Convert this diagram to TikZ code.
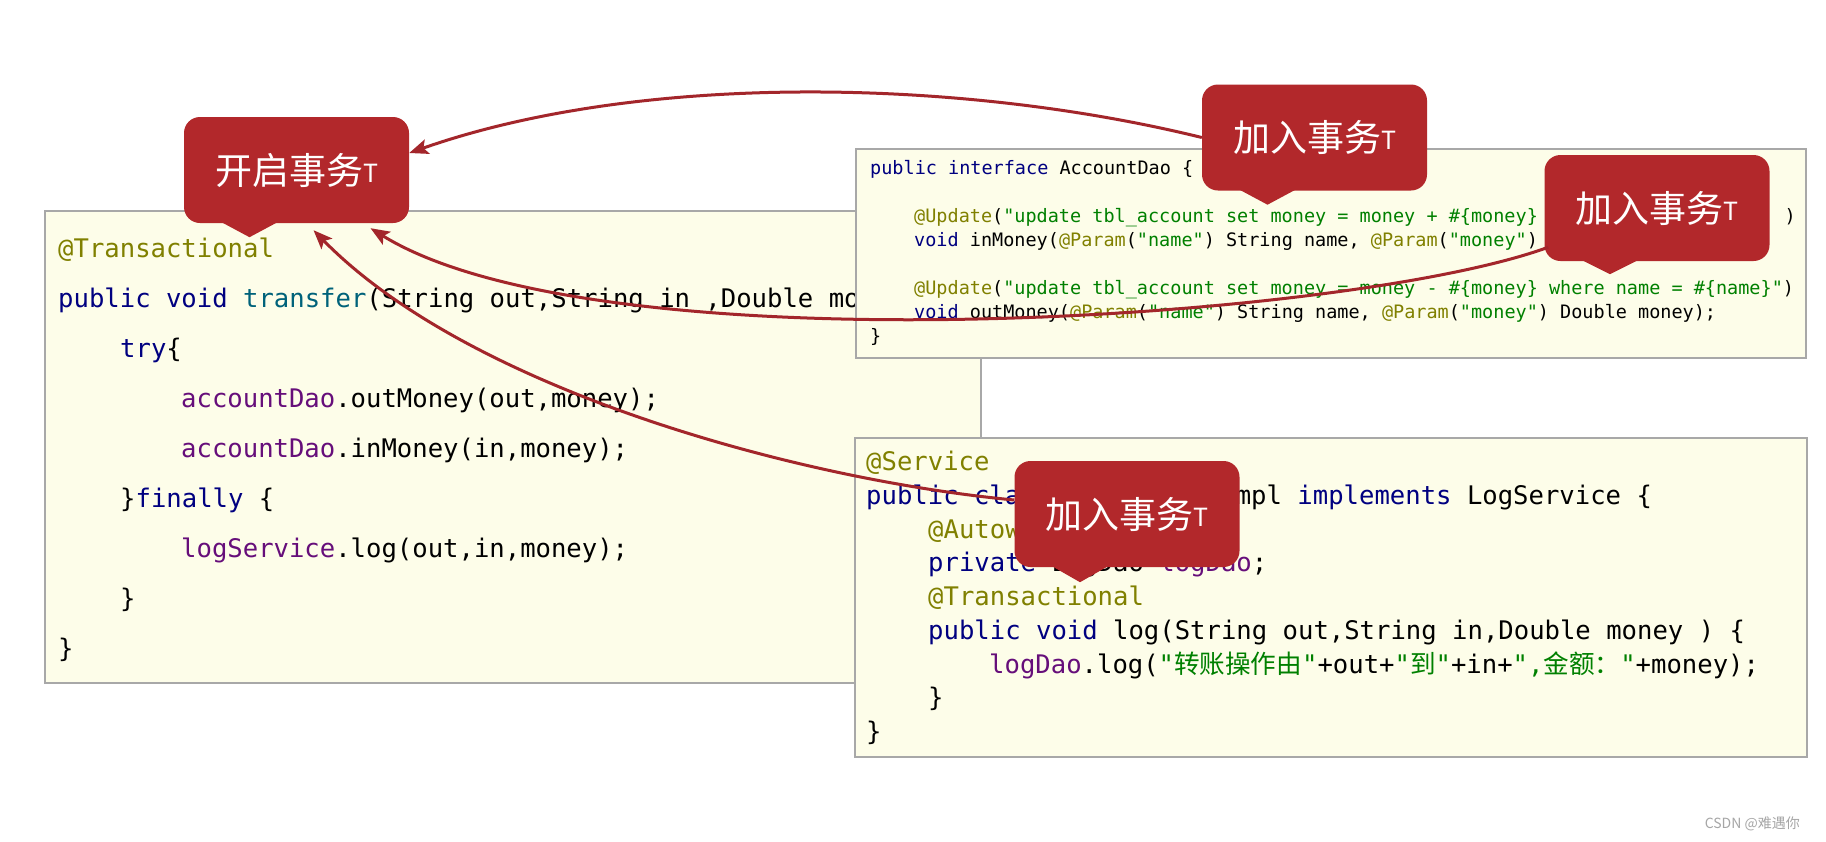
\documentclass[tikz,border=0pt]{standalone}
\usepackage{fontspec}
\setmonofont{DejaVu Sans Mono}
\newfontfamily\cjk{Noto Sans CJK SC}
\usetikzlibrary{arrows.meta,calc}
\definecolor{cred}{HTML}{B2282B}
\definecolor{ared}{HTML}{A3262B}
\definecolor{annoc}{HTML}{808000}
\definecolor{kwc}{HTML}{000080}
\definecolor{methc}{HTML}{00627A}
\definecolor{fldc}{HTML}{660E7A}
\definecolor{strc}{HTML}{008000}
\definecolor{boxfill}{HTML}{FDFDE9}
\definecolor{boxline}{HTML}{A8A8A8}
\newcommand{\cAn}[1]{\textcolor{annoc}{#1}}
\newcommand{\cKw}[1]{\textcolor{kwc}{#1}}
\newcommand{\cMe}[1]{\textcolor{methc}{#1}}
\newcommand{\cFl}[1]{\textcolor{fldc}{#1}}
\newcommand{\cSt}[1]{\textcolor{strc}{#1}}
\newcommand{\zh}[1]{{\cjk #1}}
\newcommand{\callt}[1]{#1{\fontsize{25}{25}\selectfont\raisebox{2pt}{T}}}
\begin{document}
\begin{tikzpicture}[x=1pt,y=-1pt,
  codebox/.style={draw=boxline, line width=1.5pt, fill=boxfill, inner sep=0pt, anchor=north west},
  big/.style={anchor=base west, inner sep=0pt, font=\ttfamily\fontsize{25.6}{30}\selectfont},
  small/.style={anchor=base west, inner sep=0pt, font=\ttfamily\fontsize{18.5}{22}\selectfont},
  callbox/.style={fill=cred, rounded corners=16pt, minimum width=225pt, minimum height=106pt, inner sep=0pt, text=white, font=\cjk\fontsize{37}{37}\selectfont},
  ptr/.style={fill=cred},
  arr/.style={draw=ared, line width=3pt, -{Stealth[length=19pt,width=15pt,inset=4pt]}},
]
\fill[white] (0,0) rectangle (1826,841);
\useasboundingbox (0,0) rectangle (1826,841);

% left code box
\node[codebox, minimum width=936pt, minimum height=472pt] (lbox) at (44,210) {};
\node[big] (l0) at (58,257) {\cAn{@Transactional}};
\node[big] (l1) at (58,307) {\cKw{public void} \cMe{transfer}(String out,String in ,Double mo};
\node[big] (l2) at (120,357) {\cKw{try}\{};
\node[big] (l3) at (181,407) {\cFl{accountDao}.outMoney(out,money);};
\node[big] (l4) at (181,457) {\cFl{accountDao}.inMoney(in,money);};
\node[big] (l5) at (120,507) {\}\cKw{finally} \{};
\node[big] (l6) at (181,557) {\cFl{logService}.log(out,in,money);};
\node[big] (l7) at (120,607) {\}};
\node[big] (l8) at (58,657) {\}};

% AccountDao box
\node[codebox, minimum width=950pt, minimum height=209pt] (dbox) at (855,148) {};
\node[small] (a0) at (870,174) {\cKw{public interface} AccountDao \{};
\node[small] (a1) at (914,222) {\cAn{@Update}(\cSt{"update tbl\_account set money = money + \#\{money\} w}};
\node[small] (a1b) at (1784.5,222) {)};
\node[small] (a2) at (914,246) {\cKw{void} inMoney(\cAn{@Param}(\cSt{"name"}) String name, \cAn{@Param}(\cSt{"money"}) D};
\node[small] (a3) at (914,294) {\cAn{@Update}(\cSt{"update tbl\_account set money = money - \#\{money\} where name = \#\{name\}"})};
\node[small] (a4) at (914,318) {\cKw{void} outMoney(\cAn{@Param}(\cSt{"name"}) String name, \cAn{@Param}(\cSt{"money"}) Double money);};
\node[small] (a5) at (870,342) {\}};

% LogService box
\node[codebox, minimum width=952pt, minimum height=319pt] (sbox) at (854,437) {};
\node[big] (s0) at (866,470) {\cAn{@Service}};
\node[big] (s1) at (866,504) {\cKw{public cla}};
\node[big] (s1b) at (1235.6,504) {mpl \cKw{implements} LogService \{};
\node[big] (s2) at (928,538) {\cAn{@Autow}};
\node[big] (s3) at (928,571) {\cKw{private} LogDao \cFl{logDao};};
\node[big] (s4) at (928,605) {\cAn{@Transactional}};
\node[big] (s5) at (928,639) {\cKw{public void} log(String out,String in,Double money ) \{};
\node[big] (s6) at (989,673) {\cFl{logDao}.log(\cSt{"\zh{转账操作由}"}+out+\cSt{"\zh{到}"}+in+\cSt{",\zh{金额：}"}+money);};
\node[big] (s7) at (928,706) {\}};
\node[big] (s8) at (866,740) {\}};

% callouts
\node[callbox] (c1) at (296.5,170) {\callt{开启事务}};
\fill[ptr] ($(c1.south)+(-75,-1)$) -- ($(c1.south)+(-47,14)$) -- ($(c1.south)+(-19,-1)$) -- cycle;
\node[callbox] (c2) at (1314.5,137.5) {\callt{加入事务}};
\fill[ptr] ($(c2.south)+(-75,-1)$) -- ($(c2.south)+(-47,14)$) -- ($(c2.south)+(-19,-1)$) -- cycle;
\node[callbox] (c3) at (1657,208) {\callt{加入事务}};
\fill[ptr] ($(c3.south)+(-75,-1)$) -- ($(c3.south)+(-47,13)$) -- ($(c3.south)+(-19,-1)$) -- cycle;
\node[callbox] (c4) at (1127,514) {\callt{加入事务}};
\fill[ptr] ($(c4.south)+(-75,-1)$) -- ($(c4.south)+(-47,15)$) -- ($(c4.south)+(-19,-1)$) -- cycle;

% arrows
\draw[arr] (c2.west) .. controls (960,78) and (640,72) .. ($(c1.east)+(0,-17)$);
\draw[arr] ($(c3.south west)+(4,-14)$) .. controls (1350,320) and (600,370) .. ($(c1.south)+(74,5)$);
\draw[arr] ($(c4.west)+(0,-14)$) .. controls (800,480) and (470,390) .. ($(c1.south)+(17,7)$);

% watermark
\node[anchor=base east, inner sep=0pt, text=gray!70, font=\cjk\fontsize{14}{14}\selectfont] (wm) at (1800,828) {CSDN @难遇你};
\end{tikzpicture}
\end{document}
